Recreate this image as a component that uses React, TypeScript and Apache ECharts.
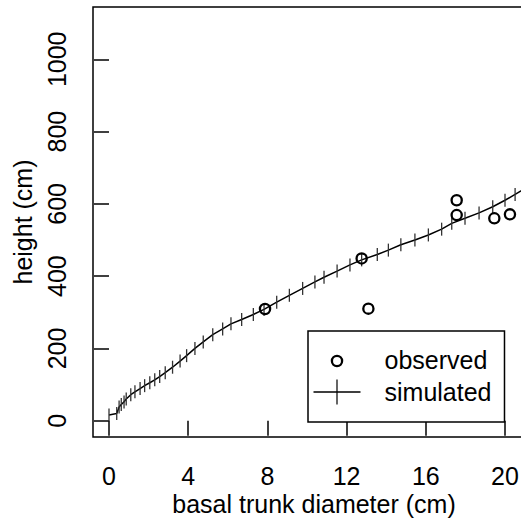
import React, { useEffect, useRef } from "react";
import * as echarts from "echarts";

const xTicks = [0, 4, 8, 12, 16, 20];
const yTicks = [0, 200, 400, 600, 800, 1000];

const simDiameter = [
  0, 0.39, 0.51, 0.62, 0.76, 0.87, 1.1, 1.31, 1.57, 1.8, 2.06, 2.31, 2.56, 2.84,
  3.21, 3.59, 3.92, 4.34, 4.76, 5.24, 5.74, 6.16, 6.7, 7.29, 7.83, 8.47, 9.11,
  9.78, 10.4, 10.86, 11.52, 12.17, 12.76, 13.55, 14.11, 14.74, 15.45, 16.13,
  16.8, 17.31, 17.98, 18.69, 19.38, 20.0, 20.51, 21.1,
];
const simHeight = [
  16, 20, 38, 45, 52, 60, 72, 80, 89, 97, 105, 113, 122, 133, 148, 165, 180,
  200, 218, 238, 254, 268, 280, 294, 308, 328, 347, 366, 384, 397, 414, 431,
  445, 460, 472, 487, 500, 514, 530, 546, 560, 575, 592, 610, 626, 645,
];

const obsDiameter = [7.88, 12.76, 13.1, 17.56, 17.56, 19.46, 20.25];
const obsHeight = [309, 449, 310, 610, 569, 560, 571];

const FONT = "'Liberation Sans', Arial, Helvetica, sans-serif";

const ringSymbol =
  "path://M0,6.25 A6.25,6.25 0 1,1 12.5,6.25 A6.25,6.25 0 1,1 0,6.25 Z M2.3,6.25 A3.95,3.95 0 1,0 10.2,6.25 A3.95,3.95 0 1,0 2.3,6.25 Z";
const obsLegendIcon =
  "path://M0,0 M66,25 M17.25,13.5 A6.25,6.25 0 1,1 29.75,13.5 A6.25,6.25 0 1,1 17.25,13.5 Z M19.55,13.5 A3.95,3.95 0 1,0 27.45,13.5 A3.95,3.95 0 1,0 19.55,13.5 Z";
const simLegendIcon =
  "path://M0,0 M66,25 M0,11.8 L47,11.8 L47,13.2 L0,13.2 Z M22.9,0 L24.1,0 L24.1,25 L22.9,25 Z";

export default function App() {
  const ref = useRef<HTMLDivElement>(null);
  useEffect(() => {
    if (!ref.current) return;
    const chart = echarts.init(ref.current, null, { renderer: "svg" });
    const simData = simDiameter.map((d, i) => [d, simHeight[i]]);
    const obsData = obsDiameter.map((d, i) => [d, obsHeight[i]]);
    chart.setOption({
      animation: false,
      backgroundColor: "#fff",
      textStyle: { fontFamily: FONT, color: "#000" },
      grid: {
        left: 93,
        top: 7,
        bottom: 84,
        right: -14,
        show: true,
        borderColor: "#000",
        borderWidth: 1.5,
        containLabel: false,
        outerBoundsMode: "none",
      },
      xAxis: {
        type: "value",
        min: -0.808,
        max: 21.515,
        name: "basal trunk diameter (cm)",
        nameLocation: "middle",
        nameGap: 54,
        nameMoveOverlap: false,
        nameTextStyle: { fontSize: 25, fontFamily: FONT, color: "#000" },
        axisLine: { show: false },
        splitLine: { show: false },
        axisTick: {
          show: true,
          length: 15,
          customValues: xTicks,
          lineStyle: { color: "#000", width: 1.5 },
        },
        axisLabel: {
          customValues: xTicks,
          margin: 26,
          fontSize: 25,
          fontFamily: FONT,
          color: "#000",
          formatter: (v: number) => String(v),
        },
      },
      yAxis: {
        type: "value",
        min: -45.1,
        max: 1144.7,
        name: "height (cm)",
        nameLocation: "middle",
        nameGap: 58,
        nameMoveOverlap: false,
        nameTextStyle: { fontSize: 25, fontFamily: FONT, color: "#000" },
        axisLine: { show: false },
        splitLine: { show: false },
        axisTick: {
          show: true,
          length: 15,
          customValues: yTicks,
          lineStyle: { color: "#000", width: 1.5 },
        },
        axisLabel: {
          customValues: yTicks,
          rotate: 90,
          margin: 24,
          fontSize: 25,
          fontFamily: FONT,
          color: "#000",
          formatter: (v: number) => String(v),
        },
      },
      legend: {
        orient: "vertical",
        left: 308,
        top: 331,
        padding: [16.5, 13, 17.5, 5.5],
        itemWidth: 66,
        itemHeight: 25,
        itemGap: 7,
        borderColor: "#000",
        borderWidth: 1.5,
        backgroundColor: "#fff",
        selectedMode: false,
        itemStyle: { color: "#000", borderWidth: 0, opacity: 1 },
        textStyle: { fontSize: 25, fontFamily: FONT, color: "#000", padding: 0 },
        data: [
          { name: "observed", icon: obsLegendIcon },
          { name: "simulated", icon: simLegendIcon },
        ],
      },
      series: [
        {
          name: "observed",
          type: "scatter",
          data: obsData,
          symbol: ringSymbol,
          symbolSize: 12.5,
          itemStyle: { color: "#000", opacity: 1 },
          z: 3,
        },
        {
          name: "simulated",
          type: "line",
          data: simData,
          showAllSymbol: true,
          symbol: "rect",
          symbolSize: [1.3, 13],
          itemStyle: { color: "#333", borderWidth: 0 },
          lineStyle: { color: "#000", width: 1.5 },
          z: 2,
        },
      ],
    });
    return () => chart.dispose();
  }, []);
  return (
    <div
      ref={ref}
      style={{ position: "fixed", left: 0, top: 0, width: 521, height: 521 }}
    />
  );
}
